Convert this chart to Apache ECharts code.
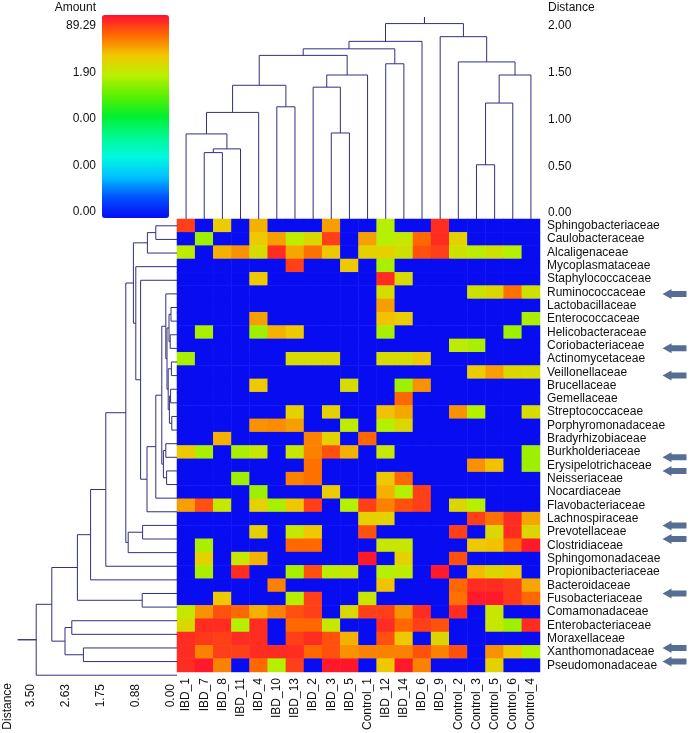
<!DOCTYPE html>
<html>
<head>
<meta charset="utf-8">
<title>Heatmap</title>
<style>
  html, body { margin: 0; padding: 0; background: #fff; }
  #chart { width: 693px; height: 733px; }
</style>
<script src="https://cdn.jsdelivr.net/npm/echarts@6/dist/echarts.min.js"></script>
</head>
<body>
<div id="chart"></div>
<script>
// samples (columns, in dendrogram order)
const samples = ['IBD_1', 'IBD_7', 'IBD_8', 'IBD_11', 'IBD_4', 'IBD_10', 'IBD_13', 'IBD_2', 'IBD_3', 'IBD_5',
  'Control_1', 'IBD_12', 'IBD_14', 'IBD_6', 'IBD_9', 'Control_2', 'Control_3', 'Control_5', 'Control_6', 'Control_4'];

// families (rows, top to bottom)
const families = ['Sphingobacteriaceae', 'Caulobacteraceae', 'Alcaligenaceae', 'Mycoplasmataceae', 'Staphylococcaceae',
  'Ruminococcaceae', 'Lactobacillaceae', 'Enterococcaceae', 'Helicobacteraceae', 'Coriobacteriaceae',
  'Actinomycetaceae', 'Veillonellaceae', 'Brucellaceae', 'Gemellaceae', 'Streptococcaceae',
  'Porphyromonadaceae', 'Bradyrhizobiaceae', 'Burkholderiaceae', 'Erysipelotrichaceae', 'Neisseriaceae',
  'Nocardiaceae', 'Flavobacteriaceae', 'Lachnospiraceae', 'Prevotellaceae', 'Clostridiaceae',
  'Sphingomonadaceae', 'Propionibacteriaceae', 'Bacteroidaceae', 'Fusobacteriaceae', 'Comamonadaceae',
  'Enterobacteriaceae', 'Moraxellaceae', 'Xanthomonadaceae', 'Pseudomonadaceae'];

// amount (%) per family, one row per family, columns as samples
const amounts = [
  [40, 0, 3.5, 0, 6, 0, 0, 0, 8, 0, 0, 1.5, 0, 0, 55, 0, 0, 0, 0, 0],          // Sphingobacteriaceae
  [0, 1.3, 0, 0, 4, 8, 1.6, 2.4, 40, 0, 8, 1.5, 1.7, 20, 55, 3, 0, 0, 0, 0],    // Caulobacteraceae
  [1.6, 0, 6, 10, 1.9, 55, 7, 17, 4, 0, 3, 3, 1.8, 30, 40, 1.8, 1.6, 1.8, 1.5, 0], // Alcaligenaceae
  [0, 0, 0, 0, 0, 0, 40, 0, 0, 4, 0, 1.4, 0, 0, 0, 0, 0, 0, 0, 0],             // Mycoplasmataceae
  [0, 0, 0, 0, 4, 0, 0, 0, 0, 0, 0, 55, 2, 0, 0, 0, 0, 0, 0, 0],               // Staphylococcaceae
  [0, 0, 0, 0, 0, 0, 0, 0, 0, 0, 0, 2, 0, 0, 0, 0, 1.8, 2.4, 17, 1.8],         // Ruminococcaceae
  [0, 0, 0, 0, 0, 0, 0, 0, 0, 0, 0, 8, 0, 0, 0, 0, 0, 0, 0, 0],                // Lactobacillaceae
  [0, 0, 0, 0, 8, 0, 0, 0, 0, 0, 0, 4.5, 3.5, 0, 0, 0, 0, 0, 0, 1.4],          // Enterococcaceae
  [0, 1.4, 0, 0, 1.3, 6, 4, 0, 0, 0, 0, 1.4, 0, 0, 0, 0, 0, 0, 1.3, 0],        // Helicobacteraceae
  [0, 0, 0, 0, 0, 0, 0, 0, 0, 0, 0, 0, 0, 0, 0, 1.6, 1.4, 0, 0, 0],            // Coriobacteriaceae
  [1.4, 0, 0, 0, 0, 0, 2, 2, 2.2, 0, 0, 2, 2, 4, 0, 0, 0, 0, 0, 0],            // Actinomycetaceae
  [0, 0, 0, 0, 0, 0, 0, 0, 0, 0, 0, 0, 0, 0, 0, 0, 3.5, 8, 2.4, 2],            // Veillonellaceae
  [0, 0, 0, 0, 4, 0, 0, 0, 0, 1.9, 0, 0, 1.3, 10, 0, 0, 0, 0, 0, 0],           // Brucellaceae
  [0, 0, 0, 0, 0, 0, 0, 0, 0, 0, 0, 0, 20, 0, 0, 0, 0, 0, 0, 0],               // Gemellaceae
  [0, 0, 0, 0, 0, 0, 3, 0, 3, 0, 0, 4.5, 7, 0, 0, 10, 1.5, 0, 0, 2],           // Streptococcaceae
  [0, 0, 0, 0, 10, 11, 8, 0, 0, 1.6, 0, 1.5, 2.4, 0, 0, 0, 0, 0, 0, 0],        // Porphyromonadaceae
  [0, 0, 6, 0, 0, 0, 0, 13, 3, 0, 20, 0, 0, 0, 0, 0, 0, 0, 0, 0],              // Bradyrhizobiaceae
  [4, 1.4, 0, 1.4, 1.7, 0, 1.7, 13, 30, 6, 0, 1.7, 0, 0, 0, 0, 0, 0, 0, 1.3],  // Burkholderiaceae
  [0, 0, 0, 0, 0, 0, 0, 17, 0, 0, 0, 0, 0, 0, 0, 0, 10, 4.5, 0, 1.3],          // Erysipelotrichaceae
  [0, 0, 0, 1.3, 0, 0, 13, 17, 0, 0, 0, 4, 20, 0, 0, 0, 0, 0, 0, 0],           // Neisseriaceae
  [0, 0, 0, 0, 1.3, 0, 0, 0, 3.5, 0, 0, 6, 1.5, 40, 0, 0, 0, 0, 0, 0],         // Nocardiaceae
  [8, 30, 1.7, 0, 3, 1.4, 4, 40, 0, 1.5, 40, 13, 30, 40, 0, 2.4, 1.5, 0, 0, 0], // Flavobacteriaceae
  [0, 0, 0, 0, 0, 0, 0, 0, 0, 0, 3, 3, 0, 0, 0, 0, 40, 17, 55, 7],             // Lachnospiraceae
  [0, 0, 0, 0, 3, 0, 1.7, 4, 0, 0, 30, 0, 0, 0, 0, 40, 0, 2.2, 55, 2.4],       // Prevotellaceae
  [0, 1.4, 0, 0, 0, 0, 20, 20, 0, 0, 0, 1.7, 1.7, 0, 0, 0, 4, 4.5, 20, 75],    // Clostridiaceae
  [0, 3, 0, 1.7, 6, 0, 0, 0, 0, 0, 75, 0, 3, 0, 0, 30, 0, 0, 0, 0],            // Sphingomonadaceae
  [0, 1.4, 0, 55, 0, 0, 1.4, 30, 1.6, 1.7, 0, 1.5, 1.6, 0, 75, 0, 5, 2.4, 4, 0], // Propionibacteriaceae
  [0, 0, 0, 0, 0, 13, 0, 0, 0, 0, 0, 4.5, 0, 0, 0, 20, 55, 55, 45, 7],         // Bacteroidaceae
  [0, 0, 4, 0, 0, 0, 1.5, 40, 0, 0, 1.7, 0, 0, 0, 0, 17, 75, 75, 45, 20],      // Fusobacteriaceae
  [1.7, 10, 30, 20, 6, 13, 30, 40, 0, 2.2, 40, 40, 10, 55, 0, 55, 0, 1.7, 0, 0], // Comamonadaceae
  [2.2, 55, 55, 1.5, 55, 0, 20, 20, 1.7, 0, 0, 55, 20, 40, 30, 0, 0, 1.7, 1.3, 55], // Enterobacteriaceae
  [55, 45, 40, 55, 55, 0, 40, 55, 30, 6, 0, 30, 4, 0, 2.4, 0, 0, 0, 0, 0],     // Moraxellaceae
  [55, 13, 40, 40, 55, 55, 55, 20, 30, 10, 13, 13, 13, 30, 13, 30, 0, 10, 4, 1.5], // Xanthomonadaceae
  [55, 75, 13, 0, 20, 1.5, 40, 0, 75, 80, 0, 4, 75, 13, 0, 0, 0, 3, 0, 0]      // Pseudomonadaceae
];

// rows marked with an arrow
const arrowRows = ['Ruminococcaceae', 'Coriobacteriaceae', 'Veillonellaceae', 'Burkholderiaceae', 'Erysipelotrichaceae',
  'Lachnospiraceae', 'Prevotellaceae', 'Bacteroidaceae', 'Moraxellaceae', 'Xanthomonadaceae'];

// colour scale labels, bottom to top
const amountTicks = ['0.00', '0.00', '0.00', '1.90', '89.29'];
const scaleColors = ['#080cf0', '#0050ff', '#00c0ff', '#00f8e0', '#00f890', '#00f030',
  '#58f000', '#b8f000', '#f0c800', '#ff6a00', '#ff1030'];

// sample dendrogram: [childA, childB, distance]; leaves 0..19, merges numbered from 20
const colTree = [
  [1, 2, 0.71], [20, 3, 0.75], [0, 21, 0.91], [22, 4, 1.14], [5, 6, 1.20], [23, 24, 1.43],
  [8, 9, 0.92], [7, 26, 1.41], [27, 10, 1.54], [25, 28, 1.75], [11, 12, 1.66], [29, 30, 1.82],
  [31, 13, 1.90], [16, 17, 0.58], [33, 18, 1.24], [34, 19, 1.54], [15, 35, 1.68], [14, 36, 1.95],
  [32, 37, 2.09]
];
const colRootStub = 2.16;

// family dendrogram: leaves 0..33, merges numbered from 34
const rowTree = [
  [0, 1, 0.53], [34, 2, 0.74],
  [6, 7, 0.15], [8, 9, 0.17], [36, 37, 0.20], [10, 11, 0.14], [12, 13, 0.16], [14, 15, 0.13],
  [40, 41, 0.19], [39, 42, 0.22], [38, 43, 0.25], [5, 44, 0.28],
  [16, 17, 0.28], [18, 19, 0.26], [46, 47, 0.34], [45, 48, 0.38],
  [49, 20, 0.53], [50, 21, 0.75], [4, 51, 0.91], [3, 52, 1.03], [35, 53, 1.09],
  [22, 23, 0.86], [55, 24, 1.22], [54, 56, 1.28], [57, 25, 1.78], [58, 26, 2.16],
  [27, 28, 0.87], [59, 60, 2.49], [29, 30, 2.63], [31, 32, 2.34], [62, 63, 2.80],
  [61, 64, 3.13], [65, 33, 3.52]
];
const rowRootStub = 3.98;

const lineColor = '#30307e';
const font = 'Liberation Sans, Arial, sans-serif';

// amount -> position on the colour bar (0 bottom .. 1 top), bar labels are not linear
function amountToLevel(a) {
  if (a <= 0) return 0;
  if (a <= 1.9) return 0.5 + 0.25 * a / 1.9;
  return Math.min(1, 0.75 + 0.25 * Math.log(a / 1.9) / Math.log(89.29 / 1.9));
}

// merges -> segments [posA, hA, posB, hB, h]
function layoutTree(tree, n, stub) {
  const pos = [], hgt = [], out = [];
  for (let i = 0; i < n; i++) { pos[i] = i; hgt[i] = 0; }
  tree.forEach(function (m, k) {
    const a = m[0], b = m[1], h = m[2];
    pos[n + k] = (pos[a] + pos[b]) / 2;
    hgt[n + k] = h;
    out.push([pos[a], hgt[a], pos[b], hgt[b], h]);
  });
  const r = n + tree.length - 1;
  out.push([pos[r], hgt[r], pos[r], hgt[r], stub]);
  return out;
}

function dendroRender(horizontal) {
  return function (params, api) {
    const pA = api.value(0), hA = api.value(1), pB = api.value(2), hB = api.value(3), h = api.value(4);
    const pt = function (p, d) { return horizontal ? api.coord([d, p]) : api.coord([p, d]); };
    return {
      type: 'polyline',
      shape: { points: [pt(pA, hA), pt(pA, h), pt(pB, h), pt(pB, hB)] },
      style: { stroke: lineColor, lineWidth: 1, fill: null }
    };
  };
}

const cells = [];
amounts.forEach(function (row, r) {
  row.forEach(function (a, c) { cells.push([c, r, amountToLevel(a)]); });
});

const noLine = { show: false };

const chart = echarts.init(document.getElementById('chart'));
chart.setOption({
  animation: false,
  textStyle: { fontFamily: font },
  grid: [
    { left: 177, top: 219, width: 363, height: 463 },  // heatmap
    { left: 177, top: 32, width: 363, height: 187 },   // sample tree
    { left: 37, top: 219, width: 140, height: 463 },   // family tree
    { left: 102, top: 26, width: 67, height: 186 },    // colour bar labels
    { left: 660, top: 219, width: 29, height: 463 }    // arrows
  ],
  xAxis: [
    {
      gridIndex: 0, type: 'category', data: samples, position: 'bottom',
      axisLine: noLine, axisTick: noLine,
      axisLabel: { rotate: 90, interval: 0, margin: 6, fontSize: 12, color: '#111' }
    },
    { gridIndex: 1, type: 'value', min: -0.5, max: 19.5, show: false },
    {
      gridIndex: 2, type: 'value', min: 0, max: 3.5, interval: 0.875, inverse: true, position: 'bottom',
      axisLine: noLine, axisTick: noLine, splitLine: noLine,
      axisLabel: {
        rotate: 90, margin: 2, fontSize: 12, color: '#111', verticalAlign: 'bottom',
        formatter: function (v) { return v.toFixed(2); }
      }
    },
    { gridIndex: 3, type: 'value', show: false },
    { gridIndex: 4, type: 'value', min: 0, max: 1, show: false }
  ],
  yAxis: [
    {
      gridIndex: 0, type: 'category', data: families, inverse: true, position: 'right',
      axisLine: noLine, axisTick: noLine,
      axisLabel: { interval: 0, margin: 7, fontSize: 12, color: '#111' }
    },
    {
      gridIndex: 1, type: 'value', min: 0, max: 2, interval: 0.5, position: 'right',
      axisLine: noLine, axisTick: noLine, splitLine: noLine,
      axisLabel: {
        margin: 8, fontSize: 12, color: '#111', verticalAlign: 'bottom',
        formatter: function (v) { return v.toFixed(2); }
      }
    },
    { gridIndex: 2, type: 'value', min: -0.5, max: 33.5, inverse: true, show: false },
    {
      gridIndex: 3, type: 'value', min: 0, max: 4, interval: 1, position: 'left',
      axisLine: noLine, axisTick: noLine, splitLine: noLine,
      axisLabel: { margin: 6, fontSize: 12, color: '#111', formatter: function (v) { return amountTicks[v]; } }
    },
    { gridIndex: 4, type: 'category', data: families, inverse: true, show: false }
  ],
  visualMap: {
    type: 'continuous', seriesIndex: 0, min: 0, max: 1,
    calculable: false, hoverLink: false, padding: 0,
    left: 102, top: 15, itemWidth: 67, itemHeight: 203,
    inRange: { color: scaleColors },
    textStyle: { color: 'transparent' }
  },
  graphic: [
    { type: 'text', x: 96, y: 8, style: { text: 'Amount', font: '12px ' + font, fill: '#111', align: 'right', verticalAlign: 'middle' } },
    { type: 'text', x: 548, y: 8, style: { text: 'Distance', font: '12px ' + font, fill: '#111', align: 'left', verticalAlign: 'middle' } },
    { type: 'text', x: 8, y: 683, rotation: Math.PI / 2, style: { text: 'Distance', font: '12px ' + font, fill: '#111', align: 'right', verticalAlign: 'middle' } }
  ],
  series: [
    {
      type: 'heatmap', xAxisIndex: 0, yAxisIndex: 0, data: cells,
      itemStyle: { borderWidth: 0 },
      emphasis: { disabled: true }
    },
    {
      type: 'custom', xAxisIndex: 1, yAxisIndex: 1, clip: false, silent: true,
      renderItem: dendroRender(false), data: layoutTree(colTree, samples.length, colRootStub)
    },
    {
      type: 'custom', xAxisIndex: 2, yAxisIndex: 2, clip: false, silent: true,
      renderItem: dendroRender(true), data: layoutTree(rowTree, families.length, rowRootStub)
    },
    {
      type: 'scatter', xAxisIndex: 4, yAxisIndex: 4, silent: true,
      symbol: 'path://M0,5 L9,0 L9,2 L24,2 L24,8 L9,8 L9,10 Z',
      symbolSize: [24, 10], itemStyle: { color: '#2c4a78' },
      data: arrowRows.map(function (f) { return [0.5, f]; })
    }
  ]
});
</script>
</body>
</html>
